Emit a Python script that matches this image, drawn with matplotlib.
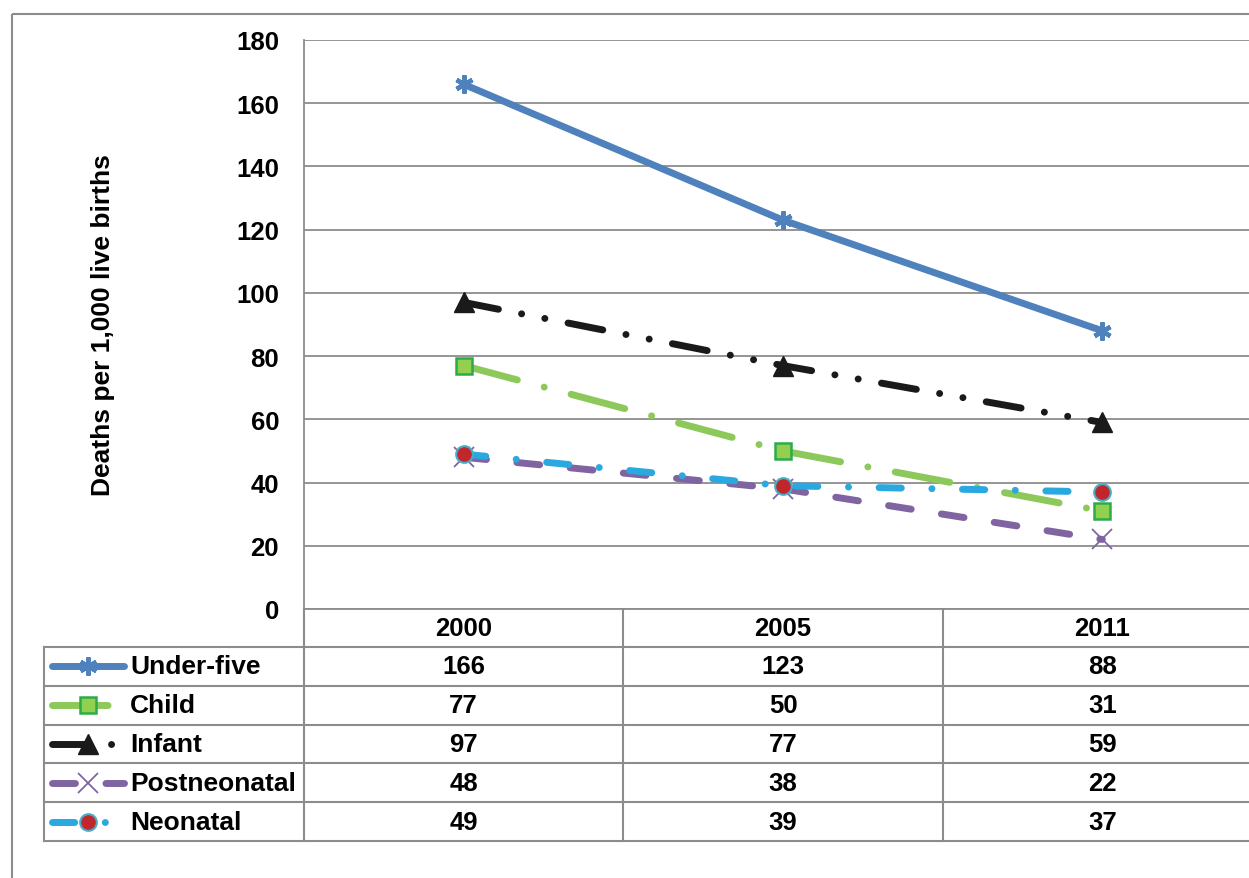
import numpy as np
import matplotlib.pyplot as plt
from matplotlib.transforms import blended_transform_factory
from matplotlib.patches import Rectangle

plt.rcParams['font.family'] = ['Liberation Sans', 'DejaVu Sans']
plt.rcParams['font.weight'] = 'bold'

years = ['2000', '2005', '2011']
series = ['Under-five', 'Child', 'Infant', 'Postneonatal', 'Neonatal']
under_five = [166, 123, 88]
child = [77, 50, 31]
infant = [97, 77, 59]
postneonatal = [48, 38, 22]
neonatal = [49, 39, 37]
values = [under_five, child, infant, postneonatal, neonatal]

grid_c = '#8c8c8c'
LW = 5.0
styles = [
    dict(color='#4F81BD', ls='-', marker=(6, 2, 0), ms=13, mew=3.2,
         mfc='#4F81BD', mec='#4F81BD'),
    dict(color='#8DC95A', ls=(0, (8.0, 4.0, 0.01, 4.0)), marker='s', ms=12, mew=1.8,
         mfc='#92D050', mec='#2EAA4A'),
    dict(color='#1a1a1a', ls=(0, (5.1, 3.4, 0.01, 3.4, 0.01, 3.4)), marker='^', ms=14, mew=1,
         mfc='#1a1a1a', mec='#1a1a1a'),
    dict(color='#8064A2', ls=(0, (3.3, 4.4)), marker='x', ms=15, mew=1.3,
         mfc='#8064A2', mec='#8064A2'),
    dict(color='#2AA8E0', ls=(0, (3.2, 4.4, 0.01, 4.4)), marker='o', ms=12, mew=1.5,
         mfc='#C0272D', mec='#4BACC6'),
]

W, H = 1249, 879
fig = plt.figure(figsize=(W / 100, H / 100), dpi=100)

# full-figure pixel overlay for the frame and the data table
tab = fig.add_axes([0, 0, 1, 1], zorder=0)
tab.set_xlim(0, W)
tab.set_ylim(H, 0)
tab.axis('off')
tab.patch.set_alpha(0)

ax = fig.add_axes([304 / W, (H - 610) / H, (1262 - 304) / W, 569 / H], zorder=1)
ax.patch.set_alpha(0)
ax.set_xlim(-0.5, 2.5)
ax.set_ylim(0, 180)
ax.set_yticks(np.arange(0, 181, 20))
ax.set_xticks([])
ax.tick_params(axis='y', length=0, pad=18, labelsize=18.5)
for lab in ax.get_yticklabels():
    lab.set_fontweight('bold')
for s in ['top', 'right', 'bottom']:
    ax.spines[s].set_visible(False)
ax.spines['left'].set_color(grid_c)
ax.spines['left'].set_linewidth(1.3)
ax.yaxis.grid(True, color=grid_c, lw=1.3)
ax.set_axisbelow(True)

x = np.arange(len(years))
for vals, st in zip(values, styles):
    ax.plot(x, vals, lw=LW, dash_capstyle='round', solid_capstyle='round',
            clip_on=False, **st)

fig.text(103 / W, 1 - 325 / H, 'Deaths per 1,000 live births', rotation=90,
         ha='center', va='center', fontsize=19, fontweight='bold')

# outer chart frame
tab.add_patch(Rectangle((12, 15), 1300, 900, fill=False, ec=grid_c, lw=1.5))

# data table under the plot
bt = blended_transform_factory(ax.transData, tab.transData)
row_edges = np.linspace(648, 842, len(series) + 1)
tab.plot([-0.5, 2.5], [610, 610], color=grid_c, lw=1.3, transform=bt, clip_on=False)
for y in row_edges:
    tab.plot([44, 1300], [y, y], color=grid_c, lw=1.5)
tab.plot([44, 44], [648, 842], color=grid_c, lw=1.5)
for xb in [-0.5, 0.5, 1.5, 2.5]:
    tab.plot([xb, xb], [610, 842], color=grid_c, lw=1.5, transform=bt, clip_on=False)

for i, yr in enumerate(years):
    tab.text(i, 629, yr, transform=bt, ha='center', va='center',
             fontsize=18.5, fontweight='bold')

for r, (name, vals, st) in enumerate(zip(series, values, styles)):
    yc = (row_edges[r] + row_edges[r + 1]) / 2
    tab.plot([52, 124], [yc, yc], lw=LW, dash_capstyle='round',
             solid_capstyle='round', color=st['color'], ls=st['ls'])
    tab.plot([88], [yc], ls='none', marker=st['marker'], ms=st['ms'], mew=st['mew'],
             mfc=st['mfc'], mec=st['mec'])
    tab.text(130, yc, name, ha='left', va='center', fontsize=19, fontweight='bold')
    for i, v in enumerate(vals):
        tab.text(i, yc, str(v), transform=bt, ha='center', va='center',
                 fontsize=18.5, fontweight='bold')

fig.savefig('out.png', dpi=100)
